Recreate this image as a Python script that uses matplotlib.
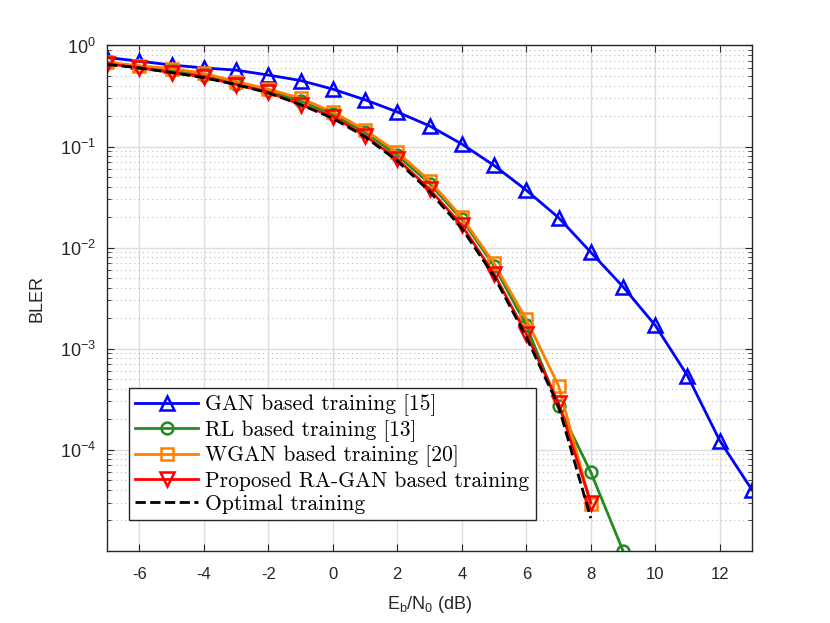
import numpy as np
import matplotlib.pyplot as plt
from matplotlib.ticker import LogLocator, NullFormatter

plt.rcParams['font.family'] = ['Liberation Sans', 'DejaVu Sans']
plt.rcParams['mathtext.default'] = 'regular'
plt.rcParams['axes.unicode_minus'] = False

# Eb/N0 points (dB)
snr_gan = np.arange(-7, 14)
snr_rl = np.arange(-7, 10)
snr_wgan = np.arange(-7, 9)
snr_prop = np.arange(-7, 9)
snr_opt = np.arange(-7, 9)

# BLER values
bler_gan = [0.76, 0.70, 0.64, 0.60, 0.57, 0.51, 0.45, 0.37, 0.29, 0.22, 0.16,
            0.106, 0.065, 0.037, 0.0198, 0.0090, 0.0041, 0.0017, 0.00054,
            0.000123, 4.0e-5]
bler_rl = [0.67, 0.62, 0.57, 0.51, 0.42, 0.36, 0.28, 0.21, 0.138, 0.082,
           0.043, 0.019, 0.0066, 0.0017, 0.00027, 6.0e-5, 1.0e-5]
bler_wgan = [0.68, 0.63, 0.59, 0.53, 0.44, 0.37, 0.30, 0.22, 0.146, 0.088,
             0.046, 0.020, 0.0070, 0.00195, 0.00043, 2.9e-5]
bler_prop = [0.66, 0.60, 0.54, 0.49, 0.41, 0.345, 0.26, 0.198, 0.128, 0.075,
             0.038, 0.0166, 0.0055, 0.0014, 0.00029, 3.0e-5]
bler_opt = [0.65, 0.60, 0.54, 0.48, 0.41, 0.34, 0.26, 0.19, 0.125, 0.072,
            0.036, 0.0155, 0.0052, 0.0013, 0.00027, 2.1e-5]

fig = plt.figure(figsize=(8.3, 6.23), dpi=100)
ax = fig.add_axes([0.129, 0.116, 0.777, 0.811])

ax.semilogy(snr_gan, bler_gan, '-^', color='#0000FF', lw=2, ms=9.5, mew=1.8,
            mfc='none', label='GAN based training [15]')
ax.semilogy(snr_rl, bler_rl, '-o', color='#228B22', lw=2, ms=8.5, mew=1.8,
            mfc='none', label='RL based training [13]')
ax.semilogy(snr_wgan, bler_wgan, '-s', color='#FF8000', lw=2, ms=8, mew=1.8,
            mfc='none', label='WGAN based training [20]')
ax.semilogy(snr_prop, bler_prop, '-v', color='#FF0000', lw=2, ms=9.5, mew=1.8,
            mfc='none', label='Proposed RA-GAN based training')
ax.semilogy(snr_opt, bler_opt, '--', color='black', lw=2,
            label='Optimal training')

ax.set_xlim(-7, 13)
ax.set_ylim(1e-5, 1)
ax.set_xticks(np.arange(-6, 13, 2))
ax.set_yticks([1e-4, 1e-3, 1e-2, 1e-1, 1e0])
ax.set_yticklabels(['$10^{-4}$', '$10^{-3}$', '$10^{-2}$', '$10^{-1}$', '$10^{0}$'])
ax.yaxis.set_minor_locator(LogLocator(base=10, subs=np.arange(2, 10), numticks=20))
ax.yaxis.set_minor_formatter(NullFormatter())

ax.grid(True, which='major', color='#DDDDDD', lw=1)
ax.grid(True, which='minor', axis='y', color='#BBBBBB', lw=0.8, ls=(0, (1, 3)))
ax.tick_params(which='both', direction='in', top=True, right=True,
               colors='#262626')
ax.tick_params(axis='x', labelsize=12, pad=12)
ax.tick_params(axis='y', labelsize=13, pad=8)
ax.tick_params(which='major', length=5)
ax.tick_params(which='minor', length=3)
for sp in ax.spines.values():
    sp.set_color('#262626')
    sp.set_linewidth(1)

ax.set_xlabel(r'E$_b$/N$_0$ (dB)', fontsize=13, color='#262626', labelpad=8)
ax.set_ylabel('BLER', fontsize=13, color='#262626', labelpad=10)

leg = ax.legend(loc='lower left', bbox_to_anchor=(0.034, 0.06),
                prop={'family': 'cmr10', 'size': 15.5}, fancybox=False,
                framealpha=1, edgecolor='#262626', borderpad=0.3,
                labelspacing=0.18, handlelength=2.9, handletextpad=0.35,
                borderaxespad=0)
leg.get_frame().set_linewidth(1)

fig.savefig('out.png', dpi=100)
